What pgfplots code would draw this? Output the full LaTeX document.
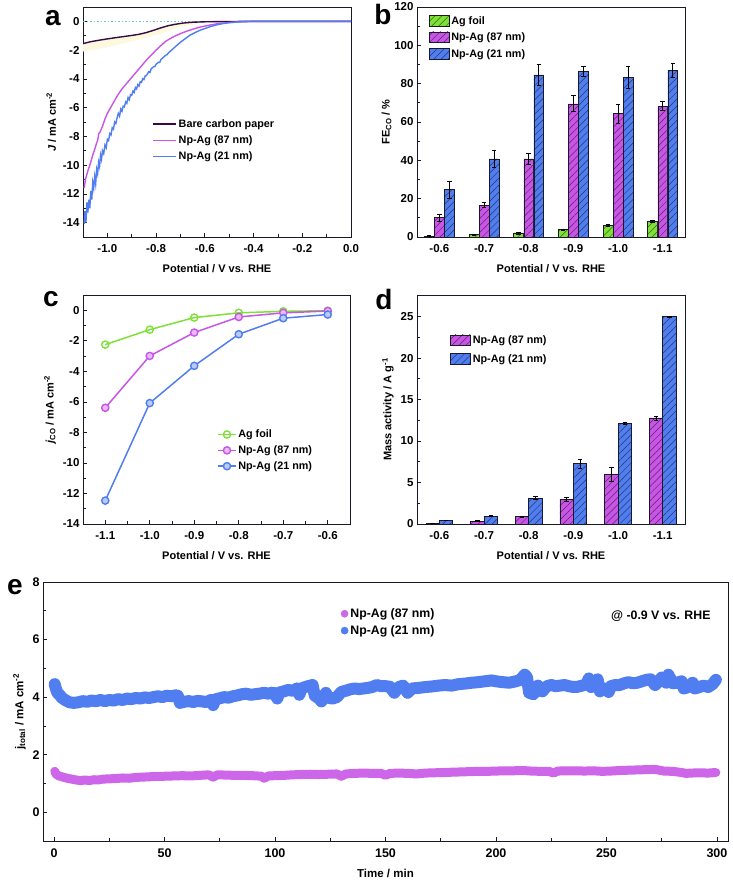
\documentclass[border=0pt]{standalone}
\usepackage{fontspec}
\setmainfont{Liberation Sans}
\usepackage{pgfplots}
\pgfplotsset{compat=1.18}
\usetikzlibrary{patterns.meta}
\definecolor{cpurp}{RGB}{55,10,70}
\definecolor{cmag}{RGB}{200,85,230}
\definecolor{cblue}{RGB}{80,125,240}
\definecolor{cgreen}{RGB}{125,225,55}
\definecolor{cyel}{RGB}{253,249,222}
\definecolor{cteal}{RGB}{110,195,200}
\definecolor{axcol}{RGB}{25,25,40}
\pgfplotsset{
  base/.style={
    scale only axis,
    axis line style={axcol, line width=0.9pt},
    every tick/.style={axcol, line width=0.7pt},
    major tick length=4pt, minor tick length=2.5pt,
    tick pos=left,
    tick label style={font=\bfseries\fontsize{11.5}{13}\selectfont},
    xticklabel shift=4pt,
    /pgf/number format/assume math mode=true,
    label style={font=\bfseries\fontsize{11}{13}\selectfont},
    xlabel style={yshift=-5pt},
    legend style={draw=none, fill=none, font=\bfseries\fontsize{10.8}{12}\selectfont, row sep=3pt, inner sep=1pt},
    legend cell align=left,
  },
  hatch/.style={fill=#1, draw=axcol, line width=0.5pt,
     postaction={pattern={Lines[angle=45,distance=5pt,line width=0.5pt]}, pattern color=#1!45!black}},
  barlegend/.style={legend image code/.code={\draw[##1] (0cm,-0.17cm) rectangle (0.7cm,0.2cm);}},
  errs/.style={error bars/.cd, y dir=both, y explicit, error bar style={line width=0.7pt, black}, error mark options={rotate=90, mark size=2.2pt, black, line width=0.7pt}},
}
\newcommand{\py}[1]{\fpeval{882-#1}pt}
\begin{document}
\begin{tikzpicture}
\useasboundingbox (0,0) rectangle (732pt,882pt);
% panel letters
\node[font=\bfseries\fontsize{28}{30}\selectfont] at (53pt,\py{18}) {a};
\node[font=\bfseries\fontsize{28}{30}\selectfont] at (383pt,\py{15}) {b};
\node[font=\bfseries\fontsize{28}{30}\selectfont] at (51pt,\py{299}) {c};
\node[font=\bfseries\fontsize{28}{30}\selectfont] at (384pt,\py{300}) {d};
\node[font=\bfseries\fontsize{28}{30}\selectfont] at (15pt,\py{587}) {e};

% ===== panel a =====
\begin{axis}[base, at={(83pt,\py{237})}, anchor=south west, width=268pt, height=230pt,
  xmin=-1.1, xmax=0, ymin=-15, ymax=1,
  xtick={-1.0,-0.8,-0.6,-0.4,-0.2,0}, ytick={-14,-12,-10,-8,-6,-4,-2,0},
  minor x tick num=1, minor y tick num=1,
  xticklabel style={/pgf/number format/.cd, fixed, fixed zerofill, precision=1},
  xlabel={Potential / V vs. RHE}, ylabel={\textit{J} / mA cm\textsuperscript{-2}},
  legend style={at={(0.255,0.525)}, anchor=north west},
  legend image code/.code={\draw[#1] (0cm,0cm) -- (0.8cm,0cm);},
]
\addplot[draw=none, fill=cyel, forget plot] coordinates {(-1.1,-1.55)(-1.07,-1.42)(-1.03,-1.3)(-1.0,-1.22)(-0.96,-1.12)(-0.93,-1.05)(-0.9,-0.98)(-0.87,-0.9)(-0.84,-0.78)(-0.81,-0.62)(-0.78,-0.45)(-0.75,-0.3)(-0.72,-0.2)(-0.69,-0.12)(-0.65,-0.06)(-0.6,-0.03)(-0.55,0)(-0.62,-0.1)(-0.7,-0.4)(-0.8,-0.95)(-0.9,-1.4)(-1.0,-1.8)(-1.1,-2.1)} -- cycle;
\addplot[cteal, dotted, line width=1.5pt, forget plot] coordinates {(-1.1,0)(0,0)};
\addplot[cpurp, line width=1.4pt] coordinates {(-1.1,-1.55)(-1.07,-1.42)(-1.03,-1.3)(-1.0,-1.22)(-0.96,-1.12)(-0.93,-1.05)(-0.9,-0.98)(-0.87,-0.9)(-0.84,-0.78)(-0.81,-0.62)(-0.78,-0.45)(-0.75,-0.3)(-0.72,-0.2)(-0.69,-0.12)(-0.65,-0.06)(-0.6,-0.03)(-0.5,-0.01)(-0.4,0)(0,0)};
\addlegendentry{Bare carbon paper}
\addplot[cmag, line width=1.4pt] coordinates {(-1.095,-11.6)(-1.09,-11.0)(-1.08,-10.4)(-1.07,-9.9)(-1.06,-9.3)(-1.05,-8.8)(-1.045,-8.5)(-1.04,-8.3)(-1.035,-7.8)(-1.03,-7.7)(-1.02,-7.3)(-1.01,-6.8)(-1.0,-6.4)(-0.98,-5.8)(-0.96,-5.2)(-0.94,-4.7)(-0.92,-4.3)(-0.9,-3.9)(-0.88,-3.5)(-0.86,-3.1)(-0.84,-2.7)(-0.82,-2.35)(-0.8,-2.0)(-0.78,-1.68)(-0.76,-1.38)(-0.74,-1.18)(-0.72,-1.0)(-0.7,-0.85)(-0.68,-0.72)(-0.65,-0.55)(-0.62,-0.4)(-0.58,-0.26)(-0.55,-0.17)(-0.5,-0.08)(-0.45,-0.03)(-0.4,0)(0,0)};
\addlegendentry{Np-Ag (87 nm)}
\addplot[cblue, line width=1.4pt] coordinates {(-1.095,-14.1)(-1.092,-13.2)(-1.088,-14.0)(-1.084,-12.6)(-1.08,-13.3)(-1.076,-12.4)(-1.072,-13.0)(-1.068,-11.8)(-1.064,-12.4)(-1.06,-11.2)(-1.056,-11.6)(-1.052,-10.8)(-1.048,-11.3)(-1.044,-10.3)(-1.04,-10.6)(-1.036,-9.8)(-1.032,-10.1)(-1.028,-9.3)(-1.024,-9.6)(-1.02,-9.0)(-1.015,-9.2)(-1.01,-8.6)(-1.005,-8.8)(-1.0,-8.2)(-0.995,-8.3)(-0.99,-7.8)(-0.985,-7.9)(-0.98,-7.4)(-0.975,-7.5)(-0.97,-7.0)(-0.965,-7.1)(-0.96,-6.7)(-0.955,-6.4)(-0.95,-6.6)(-0.945,-6.1)(-0.94,-6.25)(-0.935,-5.9)(-0.93,-5.95)(-0.925,-5.6)(-0.92,-5.7)(-0.915,-5.3)(-0.91,-5.45)(-0.905,-5.1)(-0.9,-5.15)(-0.895,-4.85)(-0.89,-4.95)(-0.885,-4.6)(-0.88,-4.7)(-0.875,-4.4)(-0.87,-4.5)(-0.865,-4.2)(-0.86,-4.25)(-0.855,-4.0)(-0.85,-4.05)(-0.845,-3.8)(-0.84,-3.78)(-0.83,-3.5)(-0.825,-3.55)(-0.82,-3.3)(-0.81,-3.15)(-0.805,-3.15)(-0.8,-2.98)(-0.79,-2.85)(-0.785,-2.85)(-0.78,-2.65)(-0.77,-2.5)(-0.76,-2.35)(-0.755,-2.32)(-0.75,-2.2)(-0.74,-2.05)(-0.73,-1.9)(-0.72,-1.75)(-0.71,-1.6)(-0.7,-1.45)(-0.68,-1.2)(-0.66,-0.95)(-0.64,-0.78)(-0.62,-0.62)(-0.6,-0.5)(-0.58,-0.38)(-0.56,-0.28)(-0.54,-0.2)(-0.52,-0.14)(-0.5,-0.09)(-0.47,-0.05)(-0.44,-0.02)(-0.4,0)(0,0)};
\addlegendentry{Np-Ag (21 nm)}
\end{axis}

% ===== panel b =====
\begin{axis}[base, at={(417pt,\py{237})}, anchor=south west, width=268pt, height=230pt,
  xmin=-0.5, xmax=5.5, ymin=0, ymax=120,
  xtick={0,1,2,3,4,5}, xticklabels={-0.6,-0.7,-0.8,-0.9,-1.0,-1.1},
  ytick={0,20,40,60,80,100,120}, minor y tick num=1,
  xlabel={Potential / V vs. RHE}, ylabel={FE\textsubscript{CO} / \%},
  ylabel style={yshift=-4pt},
  legend style={at={(0.04,0.972)}, anchor=north west},
  barlegend,
]
\addplot[ybar, bar width=0.22, bar shift=0pt, hatch=cgreen, errs] coordinates {(-0.225,0.5) +- (0,0.2) (0.775,1.2) +- (0,0.3) (1.775,2.1) +- (0,0.5) (2.775,3.8) +- (0,0.3) (3.775,6.0) +- (0,0.4) (4.775,8.3) +- (0,0.5)};
\addlegendentry{Ag foil}
\addplot[ybar, bar width=0.22, bar shift=0pt, hatch=cmag, errs] coordinates {(0,10.1) +- (0,1.9) (1,16.6) +- (0,1.3) (2,40.8) +- (0,3.0) (3,69.5) +- (0,4.2) (4,64.3) +- (0,4.8) (5,68.3) +- (0,2.3)};
\addlegendentry{Np-Ag (87 nm)}
\addplot[ybar, bar width=0.22, bar shift=0pt, hatch=cblue, errs] coordinates {(0.225,24.7) +- (0,4.4) (1.225,40.8) +- (0,4.4) (2.225,84.6) +- (0,5.4) (3.225,86.6) +- (0,2.6) (4.225,83.2) +- (0,5.7) (5.225,87.0) +- (0,3.5)};
\addlegendentry{Np-Ag (21 nm)}
\end{axis}

% ===== panel c =====
\begin{axis}[base, at={(83pt,\py{524})}, anchor=south west, width=267pt, height=229pt,
  xmin=-1.15, xmax=-0.55, ymin=-14, ymax=1,
  xtick={-1.1,-1.0,-0.9,-0.8,-0.7,-0.6}, ytick={-14,-12,-10,-8,-6,-4,-2,0},
  minor x tick num=1, minor y tick num=1,
  xticklabel style={/pgf/number format/.cd, fixed, fixed zerofill, precision=1},
  xlabel={Potential / V vs. RHE}, ylabel={\textit{j}\textsubscript{CO} / mA cm\textsuperscript{-2}},
  legend style={at={(0.5,0.425)}, anchor=north west, row sep=2.5pt},
]
\addplot[cgreen, line width=1.5pt, mark=o, mark size=3.6pt, mark options={fill=cgreen!25, line width=1.4pt}] coordinates {(-1.1,-2.25)(-1.0,-1.27)(-0.9,-0.48)(-0.8,-0.17)(-0.7,-0.07)(-0.6,-0.03)};
\addlegendentry{Ag foil}
\addplot[cmag, line width=1.5pt, mark=*, mark size=3.6pt, mark options={fill=cmag!40, line width=1.4pt}] coordinates {(-1.1,-6.39)(-1.0,-2.99)(-0.9,-1.46)(-0.8,-0.44)(-0.7,-0.17)(-0.6,-0.05)};
\addlegendentry{Np-Ag (87 nm)}
\addplot[cblue, line width=1.5pt, mark=*, mark size=3.6pt, mark options={fill=cblue!40, line width=1.4pt}] coordinates {(-1.1,-12.47)(-1.0,-6.08)(-0.9,-3.64)(-0.8,-1.57)(-0.7,-0.52)(-0.6,-0.28)};
\addlegendentry{Np-Ag (21 nm)}
\end{axis}

% ===== panel d =====
\begin{axis}[base, at={(417pt,\py{524})}, anchor=south west, width=268pt, height=229pt,
  xmin=-0.5, xmax=5.5, ymin=0, ymax=27.6,
  xtick={0,1,2,3,4,5}, xticklabels={-0.6,-0.7,-0.8,-0.9,-1.0,-1.1},
  ytick={0,5,10,15,20,25}, minor y tick num=1,
  xlabel={Potential / V vs. RHE}, ylabel={Mass activity / A g\textsuperscript{-1}},
  legend style={at={(0.12,0.835)}, anchor=north west, row sep=5pt},
  barlegend,
]
\addplot[ybar, bar width=0.3, bar shift=0pt, hatch=cmag, errs] coordinates {(-0.15,0.1) +- (0,0.02) (0.85,0.36) +- (0,0.04) (1.85,0.88) +- (0,0.06) (2.85,2.97) +- (0,0.25) (3.85,5.99) +- (0,0.8) (4.85,12.78) +- (0,0.25)};
\addlegendentry{Np-Ag (87 nm)}
\addplot[ybar, bar width=0.3, bar shift=0pt, hatch=cblue, errs] coordinates {(0.15,0.44) +- (0,0.05) (1.15,0.96) +- (0,0.06) (2.15,3.13) +- (0,0.15) (3.15,7.3) +- (0,0.55) (4.15,12.14) +- (0,0.12) (5.15,25.0) +- (0,0.05)};
\addlegendentry{Np-Ag (21 nm)}
\end{axis}

% ===== panel e =====
\begin{axis}[base, at={(43pt,\py{841})}, anchor=south west, width=685pt, height=259pt,
  xmin=-5, xmax=305, ymin=-1, ymax=8,
  xtick={0,50,100,150,200,250,300}, ytick={0,2,4,6,8},
  minor x tick num=1, minor y tick num=1,
  tick label style={font=\bfseries\fontsize{12.5}{14}\selectfont},
  xlabel={Time / min}, ylabel={j\textsubscript{total} / mA cm\textsuperscript{-2}},
  label style={font=\bfseries\fontsize{11.5}{13}\selectfont},
  legend style={at={(0.433,0.91)}, anchor=north west, font=\bfseries\fontsize{12.3}{14}\selectfont, row sep=2.5pt},
  legend image code/.code={\fill[#1] (0.22cm,0cm) circle (3.6pt);},
]
\addlegendimage{cmag!90}
\addlegendentry{Np-Ag (87 nm)}
\addlegendimage{cblue}
\addlegendentry{Np-Ag (21 nm)}
\addplot[cblue, line width=12pt, line join=round, line cap=round] coordinates {(0.3,4.45)(0.8,4.3)(1.5,4.15)(2.5,4.08)(3.5,3.98)(5,3.9)(7,3.82)(9,3.8)(11,3.82)(13,3.86)(15,3.84)(17,3.88)(19,3.86)(21,3.9)(23,3.86)(25,3.9)(27,3.88)(29,3.93)(31,3.9)(33,3.95)(35,3.93)(37,3.97)(39,3.95)(41,3.99)(43,3.97)(45,4.0)(47,4.03)(49,4.0)(51,4.05)(53,4.03)(55,4.06)(56,4.05)(57,3.8)(59,3.84)(61,3.86)(63,3.83)(65,3.87)(67,3.85)(69,3.83)(71,3.9)(72,3.72)(73,3.92)(75,3.96)(77,4.0)(79,3.98)(81,4.03)(83,4.06)(85,4.1)(87,4.12)(89,4.08)(91,4.1)(93,4.12)(95,4.15)(97,4.12)(99,4.16)(100,4.12)(101,3.95)(102,4.16)(104,4.2)(106,4.25)(108,4.22)(110,4.3)(111,4.08)(112,4.3)(114,4.36)(116,4.4)(117,4.42)(118,4.05)(120,3.95)(121,3.85)(122,3.98)(123,4.15)(124,3.98)(126,3.95)(128,4.0)(130,4.18)(132,4.22)(134,4.27)(136,4.3)(138,4.28)(140,4.3)(142,4.32)(144,4.35)(146,4.42)(148,4.38)(150,4.38)(152,4.36)(154,4.15)(156,4.35)(158,4.4)(160,4.15)(162,4.3)(165,4.32)(168,4.35)(171,4.37)(174,4.4)(177,4.42)(180,4.4)(183,4.45)(186,4.47)(189,4.5)(192,4.52)(195,4.55)(198,4.58)(200,4.55)(203,4.52)(206,4.5)(209,4.55)(211,4.6)(213,4.78)(214,4.7)(215,4.15)(217,4.1)(219,4.4)(221,4.2)(223,4.38)(225,4.42)(227,4.38)(229,4.4)(231,4.42)(233,4.38)(235,4.35)(237,4.36)(239,4.4)(241,4.45)(242,4.65)(243,4.35)(245,4.42)(246,4.62)(247,4.2)(249,4.3)(251,4.18)(252,4.38)(254,4.42)(256,4.42)(258,4.48)(260,4.52)(262,4.48)(264,4.5)(266,4.55)(268,4.6)(270,4.62)(272,4.42)(274,4.58)(275,4.68)(277,4.5)(278,4.78)(280,4.48)(282,4.5)(284,4.55)(285,4.3)(287,4.35)(289,4.5)(290,4.3)(292,4.35)(294,4.4)(296,4.35)(298,4.45)(299.5,4.6)};
\addplot[cmag!90, line width=9pt, line join=round, line cap=round] coordinates {(0.3,1.42)(1,1.32)(2,1.27)(4,1.22)(6,1.18)(8,1.15)(10,1.12)(12,1.1)(14,1.12)(16,1.1)(18,1.13)(20,1.12)(22,1.15)(25,1.16)(28,1.17)(31,1.19)(34,1.18)(37,1.21)(40,1.22)(43,1.23)(46,1.25)(50,1.25)(54,1.26)(58,1.27)(62,1.26)(66,1.28)(70,1.3)(72,1.22)(74,1.3)(78,1.29)(82,1.28)(86,1.28)(90,1.27)(94,1.25)(95,1.18)(97,1.26)(100,1.27)(104,1.28)(108,1.3)(112,1.31)(116,1.32)(120,1.31)(124,1.32)(128,1.33)(130,1.25)(132,1.33)(136,1.35)(140,1.36)(144,1.35)(148,1.35)(150,1.28)(152,1.35)(156,1.36)(160,1.35)(164,1.33)(168,1.36)(172,1.37)(176,1.38)(180,1.39)(184,1.4)(188,1.41)(192,1.42)(196,1.42)(200,1.43)(204,1.44)(208,1.44)(212,1.45)(216,1.43)(220,1.42)(224,1.42)(226,1.36)(228,1.43)(232,1.44)(236,1.44)(240,1.43)(244,1.44)(248,1.42)(252,1.43)(256,1.45)(260,1.46)(264,1.47)(268,1.48)(272,1.49)(274,1.46)(276,1.43)(280,1.42)(284,1.38)(286,1.35)(288,1.36)(292,1.37)(296,1.36)(299.5,1.38)};
\end{axis}
\node[anchor=east, font=\bfseries\fontsize{12.3}{14}\selectfont] at (714pt,\py{616}) {@ -0.9 V vs. RHE};
\end{tikzpicture}
\end{document}
